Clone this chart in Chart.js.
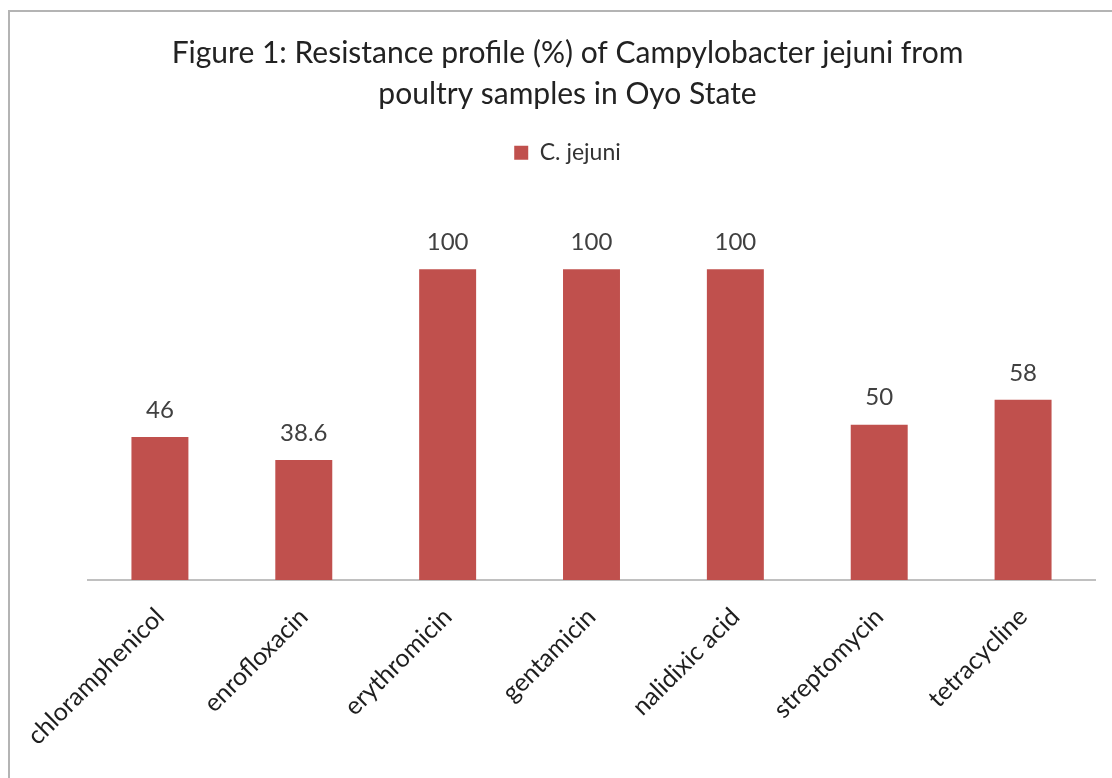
<!DOCTYPE html>
<html lang="en">
<head>
  <meta charset="UTF-8" />
  <title>Resistance profile of Campylobacter jejuni</title>
  <script src="https://cdn.jsdelivr.net/npm/chart.js"></script>
  <style>
    body {
      margin: 0;
      background: #fff;
      overflow: hidden;
    }
    #frame {
      position: absolute;
      left: 8px;
      top: 10px;
      width: 1200px;
      height: 900px;
      border: 2px solid #b4b4b4;
      box-sizing: border-box;
    }
    #wrap {
      position: absolute;
      left: 0;
      top: 0;
      width: 1112px;
      height: 778px;
    }
  </style>
</head>
<body>
  <div id="frame"></div>
  <div id="wrap"><canvas id="chart" width="1112" height="778"></canvas></div>

  <script>
    const categories = ['chloramphenicol', 'enrofloxacin', 'erythromicin', 'gentamicin', 'nalidixic acid', 'streptomycin', 'tetracycline'];
    const resistance = [46, 38.6, 100, 100, 100, 50, 58];
    const seriesName = 'C. jejuni';
    const titleLines = ['Figure 1: Resistance profile (%) of Campylobacter jejuni from', 'poultry samples in Oyo State'];

    const fontName = 'Lato, "Open Sans", sans-serif';

    // labels on top of the bars
    const valueLabels = {
      id: 'valueLabels',
      afterDatasetsDraw(chart) {
        const c = chart.ctx;
        const meta = chart.getDatasetMeta(0);
        c.save();
        c.font = '24px ' + fontName;
        c.fillStyle = '#404040';
        c.textAlign = 'center';
        c.textBaseline = 'middle';
        meta.data.forEach((bar, i) => {
          c.fillText(String(resistance[i]), bar.x, bar.y - 27);
        });
        c.restore();
      }
    };

    // extra room under the legend
    const legendGap = {
      id: 'legendGap',
      beforeInit(chart) {
        const origFit = chart.legend.fit;
        chart.legend.fit = function () {
          origFit.bind(chart.legend)();
          this.height += 33;
        };
      }
    };

    const ctx = document.getElementById('chart').getContext('2d');
    const chart = new Chart(ctx, {
      type: 'bar',
      data: {
        labels: categories,
        datasets: [{
          label: seriesName,
          data: resistance,
          backgroundColor: '#C0504D',
          barPercentage: 0.8,
          categoryPercentage: 0.495
        }]
      },
      options: {
        responsive: false,
        animation: false,
        layout: { padding: { left: 40, right: 17, top: 33, bottom: 5 } },
        scales: {
          x: {
            grid: { display: false, drawTicks: false },
            border: { color: '#c0c0c0', width: 2 },
            ticks: {
              color: '#1e1e1e',
              font: { family: fontName, size: 25 },
              minRotation: 45,
              maxRotation: 45,
              padding: 22
            }
          },
          y: {
            display: true,
            min: 0,
            max: 120,
            grid: { display: false },
            border: { display: false },
            ticks: { display: false },
            afterFit(scale) { scale.width = 48; }
          }
        },
        plugins: {
          title: {
            display: true,
            text: titleLines,
            color: '#222',
            font: { family: fontName, size: 30, weight: 'normal', lineHeight: 1.37 },
            padding: { top: 0, bottom: 14 }
          },
          legend: {
            display: true,
            labels: {
              color: '#333',
              font: { family: fontName, size: 23 },
              boxWidth: 14,
              boxHeight: 14,
              padding: 12
            }
          },
          tooltip: { enabled: false }
        }
      },
      plugins: [valueLabels, legendGap]
    });
  </script>
</body>
</html>
